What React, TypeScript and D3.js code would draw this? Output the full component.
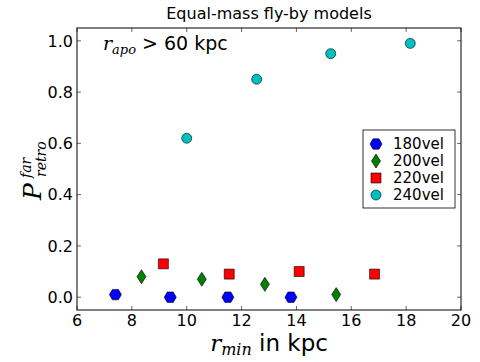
import React, { useEffect, useRef } from 'react';
import * as d3 from 'd3';

const seriesNames = ['180vel', '200vel', '220vel', '240vel'];
const rmin180 = [7.4, 9.4, 11.5, 13.8];
const p180 = [0.01, 0.0, 0.0, 0.0];
const rmin200 = [8.35, 10.55, 12.85, 15.45];
const p200 = [0.08, 0.07, 0.05, 0.01];
const rmin220 = [9.15, 11.55, 14.1, 16.85];
const p220 = [0.13, 0.09, 0.1, 0.09];
const rmin240 = [10.0, 12.55, 15.25, 18.15];
const p240 = [0.62, 0.85, 0.95, 0.99];
const xTicks = [6, 8, 10, 12, 14, 16, 18, 20];
const yTicks = [0, 0.2, 0.4, 0.6, 0.8, 1.0];

const colors = ['#0000ff', '#007f00', '#ff0000', '#00bfbf'];
const shapes = ['hex', 'diamond', 'square', 'circle'];

function markerPath(shape: string, cx: number, cy: number) {
  if (shape === 'hex') {
    const r = 6;
    const pts = d3.range(6).map(i => {
      const a = (Math.PI / 3) * i;
      return [cx + r * Math.cos(a), cy + r * Math.sin(a)];
    });
    return 'M' + pts.map(p => p.join(',')).join('L') + 'Z';
  }
  if (shape === 'diamond') {
    return `M${cx},${cy - 7}L${cx + 4.5},${cy}L${cx},${cy + 7}L${cx - 4.5},${cy}Z`;
  }
  if (shape === 'square') {
    return `M${cx - 5},${cy - 5}h10v10h-10Z`;
  }
  return d3.arc()({ innerRadius: 0, outerRadius: 5, startAngle: 0, endAngle: 2 * Math.PI })!
    .toString();
}

function Chart() {
  const ref = useRef<SVGSVGElement>(null);

  useEffect(() => {
    const width = 480;
    const height = 362;
    const margin = { top: 28, left: 77, bottom: 52, right: 19 };
    const iwidth = width - margin.left - margin.right;
    const iheight = height - margin.top - margin.bottom;
    const font = 'DejaVu Sans, sans-serif';
    const serif = 'DejaVu Serif, serif';

    const svg = d3.select(ref.current).attr('width', width).attr('height', height);
    svg.selectAll('*').remove();
    svg.append('rect').attr('width', width).attr('height', height).attr('fill', '#fff');

    const g = svg.append('g').attr('transform', `translate(${margin.left},${margin.top})`);

    const x = d3.scaleLinear().domain([6, 20]).range([0, iwidth]);
    const y = d3.scaleLinear().domain([-0.05, 1.05]).range([iheight, 0]);

    // ticks, inward on all sides
    const tickLen = 4;
    xTicks.forEach(t => {
      g.append('line').attr('x1', x(t)).attr('x2', x(t)).attr('y1', iheight).attr('y2', iheight - tickLen)
        .attr('stroke', '#000').attr('stroke-width', 0.6);
      g.append('line').attr('x1', x(t)).attr('x2', x(t)).attr('y1', 0).attr('y2', tickLen)
        .attr('stroke', '#000').attr('stroke-width', 0.6);
      g.append('text').attr('x', x(t)).attr('y', iheight + 16).attr('text-anchor', 'middle')
        .attr('font-family', font).attr('font-size', 16).text(String(t));
    });
    yTicks.forEach(t => {
      g.append('line').attr('x1', 0).attr('x2', tickLen).attr('y1', y(t)).attr('y2', y(t))
        .attr('stroke', '#000').attr('stroke-width', 0.6);
      g.append('line').attr('x1', iwidth).attr('x2', iwidth - tickLen).attr('y1', y(t)).attr('y2', y(t))
        .attr('stroke', '#000').attr('stroke-width', 0.6);
      g.append('text').attr('x', -4).attr('y', y(t)).attr('dy', '0.36em').attr('text-anchor', 'end')
        .attr('font-family', font).attr('font-size', 16).text(t.toFixed(1));
    });

    const groups = [
      rmin180.map((r, i) => [r, p180[i]]),
      rmin200.map((r, i) => [r, p200[i]]),
      rmin220.map((r, i) => [r, p220[i]]),
      rmin240.map((r, i) => [r, p240[i]]),
    ];

    groups.forEach((pts, si) => {
      g.selectAll(`.m${si}`).data(pts).enter().append('path')
        .attr('d', d => shapes[si] === 'circle'
          ? markerPath('circle', 0, 0)
          : markerPath(shapes[si], x(d[0]), y(d[1])))
        .attr('transform', d => shapes[si] === 'circle' ? `translate(${x(d[0])},${y(d[1])})` : null)
        .attr('fill', colors[si]).attr('stroke', '#000').attr('stroke-width', 0.6);
    });

    g.append('rect').attr('width', iwidth).attr('height', iheight)
      .attr('fill', 'none').attr('stroke', '#000').attr('stroke-width', 1);

    // legend
    const leg = svg.append('g').attr('transform', 'translate(363,130)');
    leg.append('rect').attr('width', 92).attr('height', 78).attr('fill', '#fff')
      .attr('stroke', '#000').attr('stroke-width', 0.8);
    seriesNames.forEach((name, i) => {
      const cy = 14 + i * 17;
      if (shapes[i] === 'circle') {
        leg.append('path').attr('d', markerPath('circle', 0, 0)).attr('transform', `translate(13,${cy})`)
          .attr('fill', colors[i]).attr('stroke', '#000').attr('stroke-width', 0.6);
      } else {
        leg.append('path').attr('d', markerPath(shapes[i], 13, cy))
          .attr('fill', colors[i]).attr('stroke', '#000').attr('stroke-width', 0.6);
      }
      leg.append('text').attr('x', 30).attr('y', cy).attr('dy', '0.36em')
        .attr('font-family', font).attr('font-size', 15).text(name);
    });

    // title
    svg.append('text').attr('x', margin.left + iwidth / 2).attr('y', 19).attr('text-anchor', 'middle')
      .attr('font-family', font).attr('font-size', 16).text('Equal-mass fly-by models');

    // annotation
    const ann = svg.append('text').attr('x', 103).attr('y', 50).attr('font-size', 19);
    ann.append('tspan').attr('font-family', serif).attr('font-style', 'italic').text('r');
    ann.append('tspan').attr('font-family', serif).attr('font-style', 'italic')
      .attr('font-size', 13).attr('dy', 4).text('apo');
    ann.append('tspan').attr('font-family', font).attr('dy', -4).text(' > 60 kpc');

    // x label
    const xl = svg.append('text').attr('x', margin.left + iwidth / 2).attr('y', 351)
      .attr('text-anchor', 'middle').attr('font-size', 23);
    xl.append('tspan').attr('font-family', serif).attr('font-style', 'italic').text('r');
    xl.append('tspan').attr('font-family', serif).attr('font-style', 'italic')
      .attr('font-size', 16).attr('dy', 4).text('min');
    xl.append('tspan').attr('font-family', font).attr('dy', -4).text(' in kpc');

    // y label: P with stacked super/subscripts
    const ylab = [
      { t: 'P', bx: 41, by: 200, size: 25 },
      { t: 'far', bx: 31, by: 178, size: 14 },
      { t: 'retro', bx: 46, by: 177, size: 14 },
    ];
    ylab.forEach(d => {
      svg.append('text').attr('transform', `translate(${d.bx},${d.by}) rotate(-90)`)
        .attr('font-family', serif).attr('font-style', 'italic').attr('font-size', d.size).text(d.t);
    });
  });

  return (
    <svg ref={ref} style={{ position: 'absolute', left: 0, top: 0 }}></svg>
  );
}

export default function App() {
  return (
    <div>
      <Chart />
    </div>
  );
}
